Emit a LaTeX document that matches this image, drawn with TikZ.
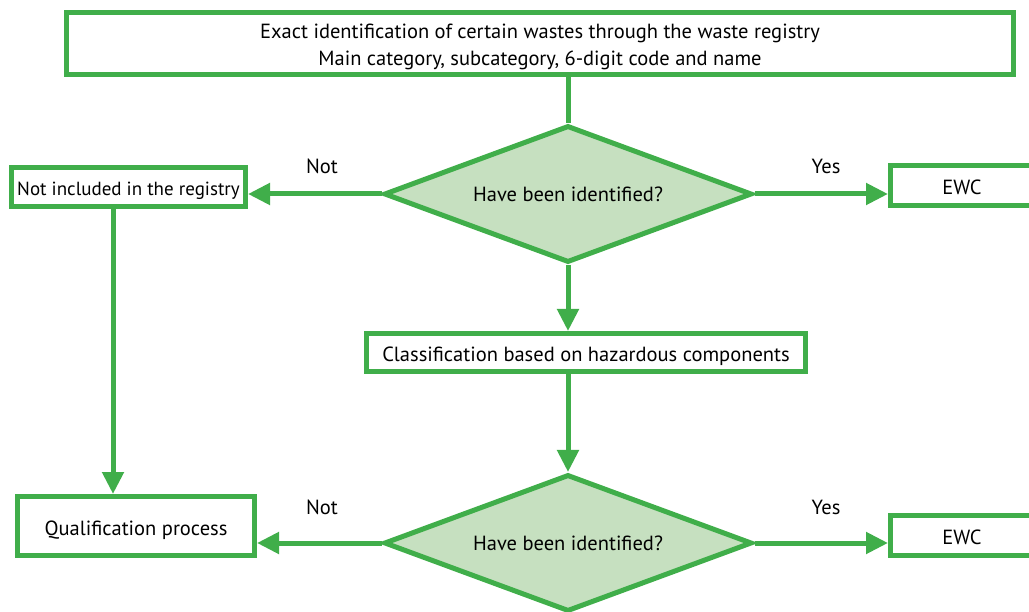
\documentclass[tikz,border=0pt]{standalone}
\usepackage{fontspec}
\setmainfont{PT Sans}
\usetikzlibrary{shapes.geometric,arrows.meta}
\definecolor{flowgreen}{HTML}{40AE4A}
\definecolor{flowfill}{HTML}{C6E0C0}
\tikzset{
  every node/.style={font=\fontsize{20.5}{27}\selectfont, text=black},
  stepbox/.style={draw=flowgreen, line width=5pt, fill=white, inner sep=0pt, align=center},
  onerow/.style={text height=22pt, text depth=4pt},
  decision/.style={diamond, draw=flowgreen, line width=5pt, fill=flowfill, inner sep=0pt,
    minimum width=368pt, minimum height=137pt, aspect=2.7},
  link/.style={draw=flowgreen, line width=5pt},
  arr/.style={link, -{Triangle[length=22pt,width=21pt]}},
  tag/.style={inner sep=0pt}
}
\begin{document}
\begin{tikzpicture}[x=1pt,y=-1pt]
\useasboundingbox (0,0) rectangle (1029,612);
\clip (0,0) rectangle (1029,612);

% process boxes
\node[stepbox, minimum width=947pt, minimum height=62pt] (top) at (540,43.5)
  {\rule{0pt}{21pt}Exact identification of certain wastes through the waste registry\\Main category, subcategory, 6-digit code and name};
\node[stepbox, onerow, minimum width=234pt, minimum height=39pt, font=\fontsize{19}{24}\selectfont] (nreg) at (128.5,187) {Not included in the registry};
\node[stepbox, onerow, minimum width=143pt, minimum height=40pt] (ewc1) at (962,185.5) {EWC};
\node[stepbox, onerow, minimum width=439pt, minimum height=38pt] (cls) at (586,352.5) {Classification based on hazardous components};
\node[stepbox, onerow, minimum width=237pt, minimum height=59pt] (qual) at (136,526) {Qualification process};
\node[stepbox, onerow, minimum width=143pt, minimum height=40pt] (ewc2) at (962,535) {EWC};

% decisions
\node[decision] (d1) at (568,194) {Have been identified?};
\node[decision] (d2) at (568,543) {Have been identified?};

% connectors
\draw[link] (d1.north |- top.south) -- (d1.north);
\draw[arr] (d1.west) -- (nreg.east |- d1.west);
\draw[arr] (d1.east) -- (ewc1.west |- d1.east);
\draw[arr] (d1.south) -- (d1.south |- cls.north);
\draw[arr] (d2.north |- cls.south) -- (d2.north);
\draw[arr] ([xshift=-15.5pt]nreg.south) -- ([xshift=-15.5pt]nreg.south |- qual.north);
\draw[arr] (d2.west) -- (qual.east |- d2.west);
\draw[arr] (d2.east) -- (ewc2.west |- d2.east);

% branch labels
\node[tag] (no1) at (322,166) {Not};
\node[tag] (yes1) at (826,166) {Yes};
\node[tag] (no2) at (322,507) {Not};
\node[tag] (yes2) at (826,507) {Yes};
\end{tikzpicture}
\end{document}
